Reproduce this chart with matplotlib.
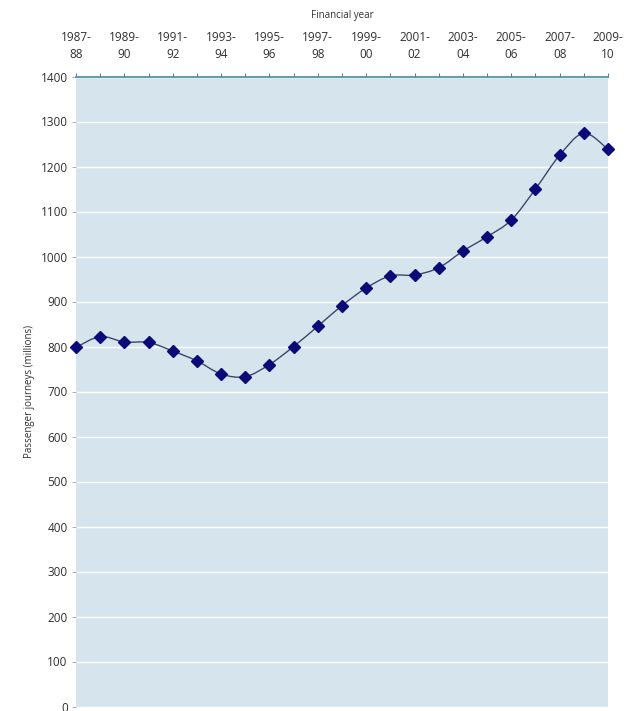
import matplotlib
matplotlib.use("Agg")
import matplotlib.pyplot as plt
from matplotlib.path import Path
from matplotlib.patches import PathPatch
import numpy as np

plt.rcParams['font.family'] = ['Open Sans', 'DejaVu Sans']

# Passenger journeys by financial year (millions)
years = ["1987-88", "1988-89", "1989-90", "1990-91", "1991-92", "1992-93",
         "1993-94", "1994-95", "1995-96", "1996-97", "1997-98", "1998-99",
         "1999-00", "2000-01", "2001-02", "2002-03", "2003-04", "2004-05",
         "2005-06", "2006-07", "2007-08", "2008-09", "2009-10"]
journeys = [798, 822, 810, 809, 790, 768, 739, 733, 760, 800, 845, 891,
            930, 957, 959, 975, 1012, 1044, 1081, 1150, 1225, 1274, 1238]
y_ticks = list(range(0, 1401, 100))

x = np.arange(len(years))
y = np.array(journeys, dtype=float)

fig = plt.figure(figsize=(6.35, 7.11), dpi=100)
ax = fig.add_axes([76 / 635, 4.5 / 711, 532 / 635, 630 / 711])
ax.set_facecolor("#d6e4ee")

# Smoothed connecting line (Catmull-Rom style cubic Bezier segments)
pts = np.column_stack([x, y])
ext = np.vstack([pts[0], pts, pts[-1]])
verts = [tuple(pts[0])]
codes = [Path.MOVETO]
for i in range(len(pts) - 1):
    p0, p1, p2, p3 = ext[i], ext[i + 1], ext[i + 2], ext[i + 3]
    c1 = p1 + (p2 - p0) / 6.0
    c2 = p2 - (p3 - p1) / 6.0
    verts += [tuple(c1), tuple(c2), tuple(p2)]
    codes += [Path.CURVE4, Path.CURVE4, Path.CURVE4]
curve = PathPatch(Path(verts, codes), facecolor="none", edgecolor="#3c4668",
                  linewidth=1.0, zorder=3, clip_on=False)
ax.add_patch(curve)

ax.plot(x, y, linestyle="none", marker="D", markersize=6.5,
        color="#0a0a78", markeredgecolor="#0a0a78", zorder=4, clip_on=False)

ax.set_xlim(0, len(years) - 1)
ax.set_ylim(0, 1400)

# Horizontal gridlines
ax.set_yticks(y_ticks)
ax.yaxis.grid(True, color="white", linewidth=1.0)
ax.set_axisbelow(True)

# Top x-axis: ticks every year, labels every second year
ax.xaxis.tick_top()
ax.xaxis.set_label_position("top")
ax.set_xticks(x)
labels = [yr.replace("-", "-\n") if i % 2 == 0 else "" for i, yr in enumerate(years)]
ax.set_xticklabels(labels, fontsize=8.5, color="#303030", linespacing=1.45)
ax.tick_params(axis="x", direction="out", length=3, width=0.8, color="#4a8a9a", pad=8)
ax.tick_params(axis="y", direction="out", length=3, width=0.6, color="#a0a0a0",
               labelsize=8.5, labelcolor="#303030", pad=3)

ax.set_xlabel("Financial year", fontsize=7, color="#303030", labelpad=9)
ax.set_ylabel("Passenger journeys (millions)", fontsize=7, color="#303030", labelpad=4)

for side in ["left", "right", "bottom"]:
    ax.spines[side].set_visible(False)
ax.spines["top"].set_color("#4a8a9a")
ax.spines["top"].set_linewidth(1.2)

fig.savefig("out.png", dpi=100)
